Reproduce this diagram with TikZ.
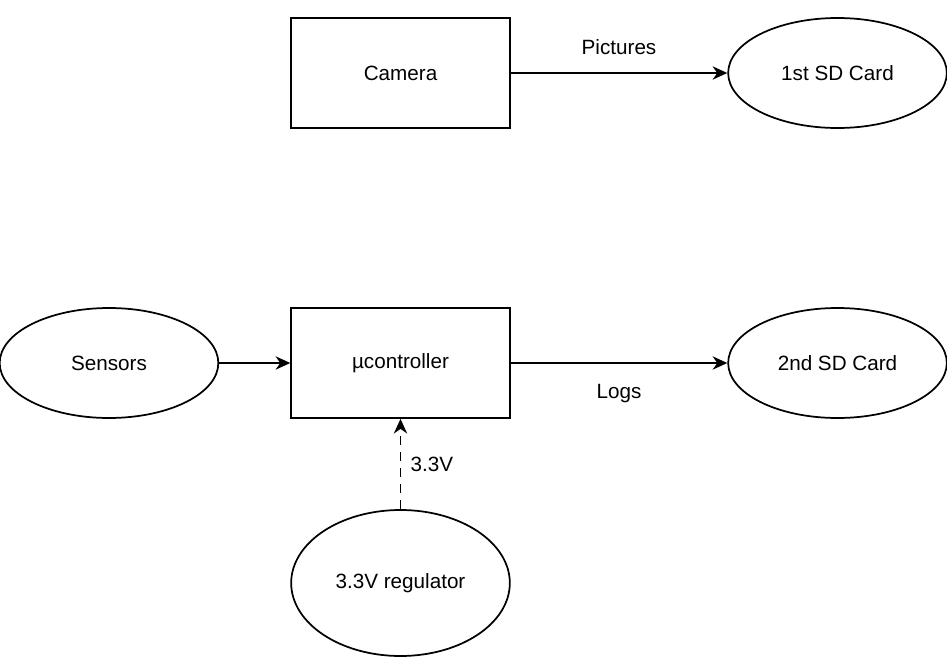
\documentclass[tikz,border=0pt]{standalone}
\usepackage{fontspec}
\setmainfont{Liberation Sans}
\usepackage{tikz}
\usetikzlibrary{arrows.meta,shapes.geometric,positioning}

\begin{document}
\begin{tikzpicture}
	[x=0.75pt,y=-0.75pt,
	font=\fontsize{15.5}{18}\selectfont,
	blk/.style={draw,line width=1.3pt,rectangle,minimum width=164pt,minimum height=82.5pt,inner sep=0pt},
	oval/.style={draw,line width=1.3pt,ellipse,minimum width=164pt,minimum height=82.5pt,inner sep=0pt},
	flow/.style={line width=1.3pt,-{Stealth[length=11pt,width=10pt,inset=3.5pt]}},
	lbl/.style={inner sep=1pt}]
	\useasboundingbox (0,0) rectangle (947,657);
	\node[blk] (camera) at (400.5,73) {Camera};
	\node[oval] (sd1) at (837.5,73) {1st SD Card};
	\node[oval] (sensors) at (109,363) {Sensors};
	\node[blk] (mcu) at (400.5,363) {µcontroller};
	\node[oval] (sd2) at (837.5,363) {2nd SD Card};
	\node[oval,minimum height=109.5pt] (reg) at (400.5,583) {3.3V regulator};
	\draw[flow] (camera) -- node[lbl,above=12pt] {Pictures} (sd1);
	\draw[flow] (sensors) -- (mcu);
	\draw[flow] (mcu) -- node[lbl,below=14pt] {Logs} (sd2);
	\draw[flow,dash pattern=on 7pt off 5pt] (reg) -- node[lbl,right=6pt] {3.3V} (mcu);
\end{tikzpicture}
\end{document}
